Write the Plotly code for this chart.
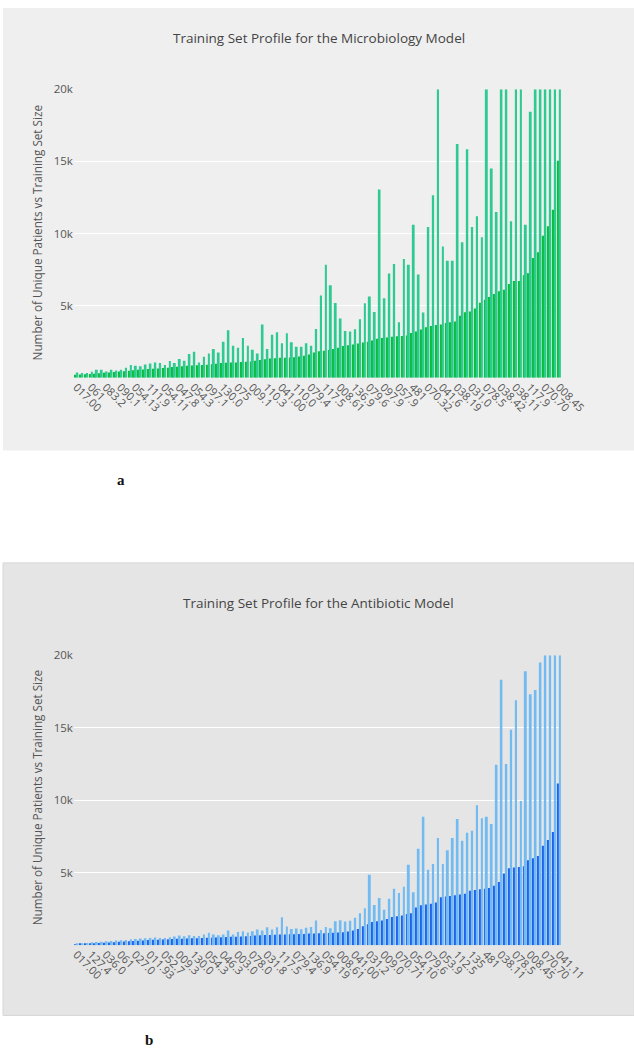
import plotly.graph_objects as go
from plotly.subplots import make_subplots

# ---- data: microbiology model (top) ----
micro_labels = ["017.00", "061", "083.2", "090.1", "054.13", "111.9", "054.11", "047.8",
                "054.3", "097.1", "130.0", "075", "009.1", "110.3", "041.00", "110.0",
                "079.4", "117.5", "008.61", "136.9", "079.6", "097.9", "057.9", "481",
                "070.32", "041.6", "038.19", "031.0", "078.5", "038.42", "038.11", "117.9",
                "070.70", "008.45"]
micro_patients = [210, 230, 250, 260, 280, 320, 340, 370, 400, 430,
                  460, 480, 520, 550, 580, 600, 630, 650, 670, 700,
                  740, 770, 800, 830, 850, 870, 880, 900, 930, 980,
                  1020, 1040, 1050, 1060, 1090, 1110, 1130, 1180, 1230, 1290,
                  1340, 1360, 1380, 1390, 1410, 1430, 1480, 1530, 1620, 1760,
                  1830, 1880, 1920, 1990, 2080, 2200, 2250, 2300, 2380, 2450,
                  2500, 2580, 2700, 2750, 2800, 2850, 2870, 2900, 2930, 3100,
                  3200, 3350, 3500, 3580, 3650, 3700, 3800, 3850, 3900, 4300,
                  4550, 4600, 4800, 5200, 5400, 5600, 5800, 6000, 6100, 6500,
                  6700, 6700, 7100, 7250, 8300, 8700, 9850, 10500, 11650, 15050]
micro_train = [370, 325, 325, 420, 555, 555, 440, 555, 510, 555,
               695, 880, 835, 790, 925, 995, 1065, 1020, 880, 1160,
               1020, 1295, 1180, 1645, 1805, 1065, 1460, 1690, 1990, 1760,
               2500, 3290, 2220, 2085, 2755, 2220, 1945, 1690, 3700, 1990,
               2985, 3150, 2385, 3080, 2455, 2155, 2155, 2385, 2220, 3380,
               5695, 7830, 6420, 5190, 4100, 3240, 3200, 3360, 4050, 5170,
               5630, 4560, 13050, 5510, 7230, 7880, 3840, 8230, 7830, 10600,
               7160, 4520, 10450, 12650, 20000, 9100, 8110, 8110, 16200, 9400,
               15850, 10450, 11200, 9750, 20000, 14500, 11500, 20000, 20000, 10850,
               20000, 20000, 10600, 18450, 20000, 20000, 20000, 20000, 20000, 20000]

# ---- data: antibiotic model (bottom) ----
anti_labels = ["017.00", "127.4", "036.0", "061", "027.0", "011.93", "052.7", "009.3",
               "130.0", "054.3", "046.3", "003.0", "078.0", "031.8", "117.5", "079.4",
               "136.9", "054.19", "008.61", "041.00", "031.2", "009.0", "070.71", "054.10",
               "079.6", "053.9", "112.5", "135", "481", "038.11", "078.5", "008.45",
               "070.70", "041.11"]
anti_patients = [40, 70, 90, 110, 130, 150, 170, 190, 210, 230,
                 250, 270, 290, 310, 330, 350, 370, 380, 400, 410,
                 420, 440, 450, 460, 470, 480, 500, 510, 520, 530,
                 540, 570, 580, 590, 600, 620, 640, 660, 680, 700,
                 710, 720, 730, 740, 750, 760, 770, 780, 800, 810,
                 820, 830, 840, 860, 880, 900, 950, 1020, 1120, 1300,
                 1450, 1600, 1650, 1700, 1800, 1950, 2000, 2050, 2150, 2200,
                 2600, 2750, 2800, 2850, 2950, 3300, 3350, 3400, 3450, 3500,
                 3550, 3750, 3800, 3850, 3900, 3950, 4100, 4350, 4950, 5300,
                 5350, 5400, 5450, 5850, 6000, 6150, 6850, 7250, 7800, 11150]
anti_train = [100, 130, 155, 200, 225, 245, 270, 295, 315, 340,
              360, 410, 430, 455, 480, 500, 525, 500, 500, 545,
              595, 660, 615, 685, 640, 640, 730, 850, 730, 685,
              730, 1010, 730, 915, 960, 870, 960, 1080, 1010, 1240,
              1080, 1240, 1930, 1290, 1120, 1150, 1100, 1200, 1260, 1700,
              1050, 1260, 1170, 1650, 1720, 1630, 1680, 1900, 2200, 2550,
              4850, 2780, 3250, 2450, 3200, 3900, 3600, 4030, 5550, 3650,
              6650, 8850, 5200, 5600, 7400, 5600, 6550, 7400, 8700, 7200,
              7750, 7900, 9650, 8750, 8850, 8350, 12450, 18300, 12500, 14850,
              16900, 9950, 18900, 17300, 17600, 19500, 20000, 20000, 20000, 20000]

y_ticks = [5000, 10000, 15000, 20000]
y_ticktext = ["5k", "10k", "15k", "20k"]

FIG_W, FIG_H = 665, 1050
FONT = "Open Sans"


# positions are measured on the reference picture; map them to paper fractions
def px(x):
    return ((x - 3) / 0.953) / FIG_W


def py(y):
    return 1 - ((y - 10) / 0.989) / FIG_H


fig = make_subplots(rows=2, cols=1)

idx = list(range(len(micro_patients)))
fig.add_trace(go.Bar(x=idx, y=micro_patients, name="Unique Patients",
                     marker=dict(color="#0abd3c", line_width=0)), row=1, col=1)
fig.add_trace(go.Bar(x=idx, y=micro_train, name="Training Set Size",
                     marker=dict(color="#2dca92", line_width=0)), row=1, col=1)

idx2 = list(range(len(anti_patients)))
fig.add_trace(go.Bar(x=idx2, y=anti_patients, name="Unique Patients",
                     marker=dict(color="#1d63ee", line_width=0)), row=2, col=1)
fig.add_trace(go.Bar(x=idx2, y=anti_train, name="Training Set Size",
                     marker=dict(color="#72bbf2", line_width=0)), row=2, col=1)

xdom = [px(73.6), px(559.4)]
xaxis_common = dict(range=[-0.5, 99.5], tickangle=45, showgrid=False, zeroline=False,
                    showline=False, ticks="", tickfont=dict(family=FONT, size=11, color="#555"))
yaxis_common = dict(range=[0, 20000], tickvals=y_ticks, ticktext=y_ticktext,
                    showgrid=True, gridcolor="#ffffff", gridwidth=1, zeroline=False,
                    showline=False, ticks="",
                    tickfont=dict(family=FONT, size=11.5, color="#555"))

fig.update_xaxes(xaxis_common)
fig.update_yaxes(yaxis_common)
fig.update_xaxes(domain=xdom, tickvals=list(range(0, 100, 3)), ticktext=micro_labels,
                 row=1, col=1)
fig.update_xaxes(domain=xdom, tickvals=list(range(0, 100, 3)), ticktext=anti_labels,
                 row=2, col=1)
fig.update_yaxes(domain=[py(378.5), py(91)], row=1, col=1)
fig.update_yaxes(domain=[py(944), py(655)], row=2, col=1)

# panel backgrounds
fig.add_shape(type="rect", xref="paper", yref="paper", x0=0, x1=1,
              y0=py(451), y1=1, fillcolor="#efefef", line_width=0, layer="below")
fig.add_shape(type="rect", xref="paper", yref="paper", x0=0, x1=px(632),
              y0=py(1014), y1=py(563), fillcolor="#e5e5e5",
              line=dict(color="#d6d6d6", width=1), layer="below")

ann = dict(xref="paper", yref="paper", showarrow=False, xanchor="center", yanchor="middle")
fig.add_annotation(text="Training Set Profile for the Microbiology Model",
                   x=px(318), y=py(40),
                   font=dict(family=FONT, size=13.5, color="#444"), **ann)
fig.add_annotation(text="Training Set Profile for the Antibiotic Model",
                   x=px(317), y=py(603),
                   font=dict(family=FONT, size=13.5, color="#444"), **ann)
ytitle = "Number of Unique Patients vs Training Set Size"
fig.add_annotation(text=ytitle, x=px(37), y=py(234.5), textangle=-90,
                   font=dict(family=FONT, size=11.7, color="#555"), **ann)
fig.add_annotation(text=ytitle, x=px(37), y=py(797.5), textangle=-90,
                   font=dict(family=FONT, size=11.7, color="#555"), **ann)
fig.add_annotation(text="<b>a</b>", x=px(121), y=py(480),
                   font=dict(family="Liberation Serif", size=15, color="#111"), **ann)
fig.add_annotation(text="<b>b</b>", x=px(148), y=0, xref="paper", yref="paper",
                   showarrow=False, xanchor="center", yanchor="bottom",
                   font=dict(family="Liberation Serif", size=15, color="#111"))

fig.update_layout(width=FIG_W, height=FIG_H, margin=dict(l=0, r=0, t=0, b=0),
                  paper_bgcolor="#ffffff", plot_bgcolor="rgba(0,0,0,0)",
                  barmode="group", bargap=0.2, bargroupgap=0, showlegend=False,
                  font=dict(family=FONT, color="#444"))

fig.write_html("out.html", config={"displayModeBar": False},
               post_script="document.body.style.margin='0';document.body.style.overflow='hidden';")
